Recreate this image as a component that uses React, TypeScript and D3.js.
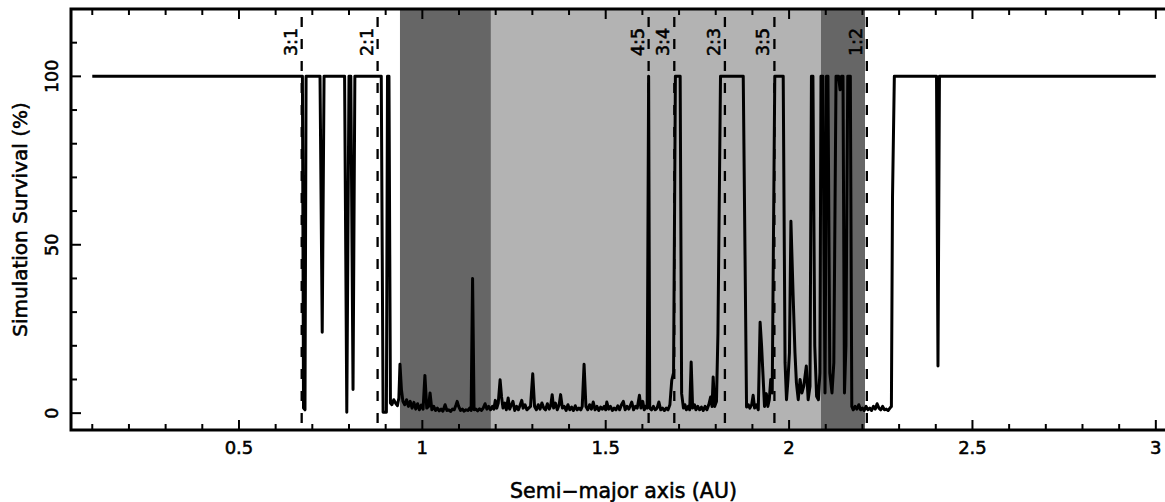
import React, { useEffect, useRef } from 'react';
import * as d3 from 'd3';

// survival (%) vs semi-major axis (AU)
const innerBelt: [number, number][] = [
  [0.1, 100], [0.673, 100], [0.676, 1.5], [0.68, 1.0], [0.683, 100],
  [0.721, 100], [0.727, 24], [0.732, 100],
  [0.788, 100], [0.794, 0.3], [0.8, 100], [0.805, 100], [0.811, 7], [0.816, 100],
  [0.888, 100], [0.893, 0.3], [0.902, 0.3], [0.905, 100], [0.909, 100], [0.913, 3],
];

const noisyZone: [number, number][] = [
  [0.917, 2.5], [0.922, 4.0], [0.927, 3.0], [0.932, 2.2], [0.936, 4.5], [0.939, 14.5],
  [0.943, 7.0], [0.947, 3.5], [0.952, 2.5], [0.957, 4.0], [0.962, 2.0], [0.967, 3.5],
  [0.972, 1.5], [0.977, 3.2], [0.982, 1.2], [0.987, 2.8], [0.992, 1.0], [0.997, 2.4],
  [1.002, 1.2], [1.007, 11.2], [1.012, 1.5], [1.017, 2.0], [1.021, 6.0], [1.026, 1.0],
  [1.031, 2.0], [1.036, 0.8], [1.041, 1.5], [1.046, 0.7], [1.051, 1.2], [1.056, 0.6],
  [1.062, 2.5], [1.067, 0.8], [1.072, 1.0], [1.077, 0.5], [1.082, 1.2], [1.087, 1.0],
  [1.092, 2.5], [1.095, 3.5], [1.099, 2.0], [1.104, 0.8], [1.109, 1.2], [1.114, 0.6],
  [1.119, 1.0], [1.124, 0.8], [1.129, 1.5], [1.133, 0.8], [1.137, 40], [1.141, 1.0],
  [1.146, 1.2], [1.151, 0.7], [1.156, 1.3], [1.161, 0.8], [1.166, 1.5], [1.171, 2.8],
  [1.176, 1.2], [1.181, 2.0], [1.186, 1.0], [1.191, 2.0], [1.195, 1.2], [1.199, 3.8],
  [1.203, 1.5], [1.207, 3.0], [1.212, 9.9], [1.216, 4.8], [1.22, 1.5], [1.225, 3.0],
  [1.229, 1.0], [1.234, 4.5], [1.238, 1.2], [1.243, 2.5], [1.247, 3.5], [1.252, 0.8],
  [1.257, 2.0], [1.262, 1.0], [1.266, 2.2], [1.271, 3.8], [1.275, 1.5], [1.28, 2.5],
  [1.285, 1.0], [1.29, 1.5], [1.295, 2.0], [1.301, 11.7], [1.306, 2.0], [1.311, 1.0],
  [1.316, 2.5], [1.321, 1.2], [1.326, 3.0], [1.331, 1.5], [1.336, 1.0], [1.341, 2.8],
  [1.346, 1.2], [1.35, 2.2], [1.354, 5.5], [1.358, 1.5], [1.363, 3.0], [1.368, 1.0],
  [1.373, 2.5], [1.377, 5.5], [1.382, 1.5], [1.387, 2.0], [1.392, 0.8], [1.397, 2.5],
  [1.402, 1.0], [1.407, 1.8], [1.412, 0.8], [1.417, 2.2], [1.422, 1.0], [1.427, 1.5],
  [1.432, 1.0], [1.436, 2.0], [1.441, 14.5], [1.446, 2.0], [1.451, 1.0], [1.456, 2.5],
  [1.461, 1.2], [1.466, 3.3], [1.471, 1.0], [1.476, 2.0], [1.481, 0.8], [1.486, 1.8],
  [1.491, 1.2], [1.496, 2.0], [1.5, 1.0], [1.503, 3.3], [1.508, 1.2], [1.513, 2.0],
  [1.518, 0.8], [1.523, 1.5], [1.528, 1.0], [1.533, 2.2], [1.538, 1.0], [1.543, 2.5],
  [1.548, 3.5], [1.553, 1.0], [1.558, 2.0], [1.563, 1.2], [1.568, 2.5], [1.571, 3.3],
  [1.576, 1.0], [1.581, 2.0], [1.586, 1.5], [1.592, 5.3], [1.596, 1.5], [1.601, 3.5],
  [1.605, 1.0], [1.609, 2.0], [1.613, 1.5],
];

const resonanceZone: [number, number][] = [
  [1.617, 100], [1.62, 1.5], [1.625, 1.0], [1.63, 2.0], [1.635, 1.0], [1.64, 1.5],
  [1.645, 3.3], [1.65, 1.0], [1.655, 1.5], [1.66, 0.8], [1.665, 1.5], [1.67, 1.0],
  [1.675, 2.5], [1.68, 9.7], [1.685, 12], [1.69, 100], [1.703, 100], [1.707, 5.8],
  [1.712, 1.5], [1.716, 2.5], [1.72, 1.0], [1.725, 2.0], [1.729, 1.0], [1.733, 15.2],
  [1.737, 1.5], [1.742, 2.5], [1.746, 1.0], [1.751, 2.0], [1.756, 1.0], [1.761, 1.8],
  [1.766, 0.8], [1.771, 2.0], [1.776, 1.0], [1.781, 2.5], [1.786, 4.8], [1.79, 2.0],
  [1.793, 10.7], [1.797, 2.0], [1.802, 3.5], [1.806, 23.6], [1.813, 100], [1.875, 100],
  [1.884, 1.8], [1.889, 2.5], [1.893, 1.5], [1.898, 2.5], [1.902, 5.3], [1.906, 1.5],
  [1.911, 2.5], [1.916, 1.0], [1.921, 27], [1.925, 20], [1.929, 11], [1.933, 2.0],
  [1.938, 5.8], [1.942, 2.0], [1.946, 4.0], [1.95, 10], [1.954, 6], [1.961, 100],
  [1.984, 100], [1.989, 15], [1.993, 4], [1.997, 10], [2.001, 18], [2.005, 57],
  [2.011, 35], [2.016, 18], [2.02, 9], [2.025, 4], [2.03, 10], [2.035, 6], [2.04, 8],
  [2.047, 14], [2.052, 4], [2.057, 8], [2.061, 100], [2.065, 100], [2.07, 20], [2.075, 5],
  [2.08, 4], [2.084, 12], [2.087, 100], [2.092, 100], [2.098, 6], [2.102, 100],
  [2.106, 100], [2.111, 12], [2.117, 6], [2.122, 15], [2.128, 100], [2.135, 100],
  [2.139, 96], [2.143, 100], [2.147, 100], [2.151, 6], [2.155, 20], [2.16, 100],
  [2.167, 100], [2.171, 2], [2.175, 1.0], [2.18, 2.0], [2.185, 1.2], [2.19, 2.5],
  [2.195, 1.0], [2.2, 1.5], [2.205, 0.8], [2.21, 2.0], [2.215, 1.0], [2.22, 1.5],
  [2.225, 0.8], [2.23, 2.0], [2.235, 1.2], [2.24, 2.8], [2.245, 1.5], [2.25, 1.0],
  [2.255, 2.0], [2.26, 1.0], [2.265, 1.2], [2.27, 0.8], [2.275, 1.5], [2.279, 2.0],
];

const outerBelt: [number, number][] = [
  [2.282, 64], [2.287, 100], [2.402, 100], [2.406, 14], [2.41, 100], [3.0, 100],
];

const resonanceLabels = ['3:1', '2:1', '4:5', '3:4', '2:3', '3:5', '1:2'];
const resonancePositions = [0.671, 0.878, 1.617, 1.687, 1.825, 1.96, 2.212];

// shaded zones: [start, end, grey]
const bandStarts = [0.939, 1.187, 2.087];
const bandEnds = [1.187, 2.087, 2.207];
const bandFills = ['#666666', '#b3b3b3', '#666666'];

const xMajorTicks = [0.5, 1, 1.5, 2, 2.5, 3];
const yMajorTicks = [0, 50, 100];

const W = 1165;
const H = 502;
const left = 71;
const top = 9;
const bottom = 430;
const right = 1176;
const font = 'DejaVu Sans';

const addText = (sel: any, size: number) =>
  sel.attr('font-family', font)
    .attr('font-size', size)
    .attr('fill', '#000')
    .attr('stroke', '#000')
    .attr('stroke-width', 0.55);

const drawChart = (node: SVGSVGElement) => {
  const svg = d3.select(node);
  svg.selectAll('*').remove();

  const x = d3.scaleLinear().domain([0.042, 3.055]).range([left, right]);
  const y = d3.scaleLinear().domain([-5, 120]).range([bottom, top]);

  svg.selectAll('rect.band')
    .data(bandStarts)
    .enter()
    .append('rect')
    .attr('class', 'band')
    .attr('x', d => x(d))
    .attr('y', top)
    .attr('width', (d, i) => x(bandEnds[i]) - x(d))
    .attr('height', bottom - top)
    .attr('fill', (d, i) => bandFills[i]);

  const curve = [...innerBelt, ...noisyZone, ...resonanceZone, ...outerBelt];
  const line = d3.line<[number, number]>()
    .x(d => x(d[0]))
    .y(d => y(d[1]));

  svg.append('path')
    .attr('d', line(curve))
    .attr('fill', 'none')
    .attr('stroke', '#000')
    .attr('stroke-width', 3)
    .attr('stroke-linejoin', 'round');

  svg.selectAll('line.res')
    .data(resonancePositions)
    .enter()
    .append('line')
    .attr('class', 'res')
    .attr('x1', d => x(d))
    .attr('x2', d => x(d))
    .attr('y1', top + 8)
    .attr('y2', bottom)
    .attr('stroke', '#000')
    .attr('stroke-width', 2.3)
    .attr('stroke-dasharray', '10 12');

  addText(svg.selectAll('text.res')
    .data(resonancePositions)
    .enter()
    .append('text')
    .attr('class', 'res')
    .attr('transform', d => `translate(${x(d) - 5},42) rotate(-90)`)
    .attr('text-anchor', 'middle'), 17.5)
    .text((d, i) => resonanceLabels[i]);

  // frame + ticks on all four sides
  const ticks = svg.append('g').attr('stroke', '#000').attr('stroke-width', 2);
  const xMinor = d3.range(1, 31).map(v => v / 10);
  xMinor.forEach(v => {
    const len = xMajorTicks.some(m => Math.abs(m - v) < 1e-6) ? 10 : 6;
    ticks.append('line').attr('x1', x(v)).attr('x2', x(v)).attr('y1', bottom).attr('y2', bottom - len);
    ticks.append('line').attr('x1', x(v)).attr('x2', x(v)).attr('y1', top).attr('y2', top + len);
  });
  const yMinor = d3.range(0, 13).map(v => v * 10);
  yMinor.forEach(v => {
    const len = yMajorTicks.includes(v) ? 10 : 6;
    ticks.append('line').attr('x1', left).attr('x2', left + len).attr('y1', y(v)).attr('y2', y(v));
    ticks.append('line').attr('x1', right).attr('x2', right - len).attr('y1', y(v)).attr('y2', y(v));
  });

  svg.append('rect')
    .attr('x', left)
    .attr('y', top)
    .attr('width', right - left)
    .attr('height', bottom - top)
    .attr('fill', 'none')
    .attr('stroke', '#000')
    .attr('stroke-width', 3);

  addText(svg.selectAll('text.xt')
    .data(xMajorTicks)
    .enter()
    .append('text')
    .attr('class', 'xt')
    .attr('x', d => x(d))
    .attr('y', 454)
    .attr('text-anchor', 'middle'), 18)
    .text(d => String(d));

  addText(svg.selectAll('text.yt')
    .data(yMajorTicks)
    .enter()
    .append('text')
    .attr('class', 'yt')
    .attr('transform', d => `translate(58,${y(d)}) rotate(-90)`)
    .attr('text-anchor', 'middle'), 17.5)
    .text(d => String(d));

  addText(svg.append('text')
    .attr('x', (left + right) / 2)
    .attr('y', 498)
    .attr('text-anchor', 'middle'), 20.5)
    .text('Semi\u2212major axis (AU)');

  addText(svg.append('text')
    .attr('transform', `translate(27,${(top + bottom) / 2}) rotate(-90)`)
    .attr('text-anchor', 'middle'), 20)
    .text('Simulation Survival (%)');
};

const App = () => {
  const ref = useRef<SVGSVGElement>(null);

  useEffect(() => {
    if (ref.current) drawChart(ref.current);
  }, []);

  return (
    <svg
      ref={ref}
      width={W}
      height={H}
      style={{ position: 'absolute', left: 0, top: 0, background: '#fff' }}
    />
  );
};

export default App;
